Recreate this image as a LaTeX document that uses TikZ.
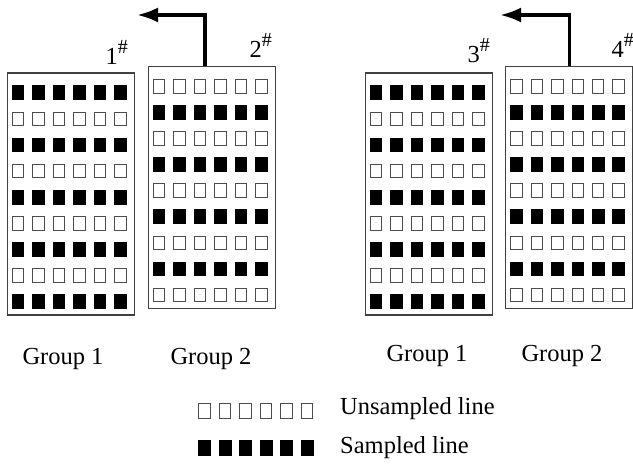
\documentclass[tikz,border=0pt]{standalone}
\usepackage{fontspec}
\setmainfont{Liberation Serif}
\usetikzlibrary{arrows.meta}
\newcommand{\hashmark}{\raisebox{11pt}{\fontsize{20}{20}\selectfont\#}}
\begin{document}
\begin{tikzpicture}[x=1pt,y=-1pt,
	building/.style={rectangle, draw=black!75, line width=1.1pt, minimum width=127pt, minimum height=242pt, inner sep=0pt},
	win0/.style={rectangle, fill=black, draw=black, line width=0.8pt, minimum width=11.6pt, minimum height=13.8pt, inner sep=0pt},
	win1/.style={rectangle, fill=white, draw=black!70, line width=0.9pt, minimum width=11.4pt, minimum height=13.6pt, inner sep=0pt},
	txt/.style={font=\fontsize{24.5}{29}\selectfont, inner sep=0pt},
	>={Latex[length=21pt,width=15pt]}
	]
	\useasboundingbox (0,0) rectangle (633,465);
	\path
	+(70.7,194)    node[building]  (b1) {}
	+(211.7,187.5) node[building]  (b2) {}
	+(428.7,194)   node[building]  (b3) {}
	+(569,187.5)   node[building]  (b4) {}
	;
	% windows: win0 sampled, win1 unsampled
	\foreach \b/\p in {b1/0,b2/1,b3/0,b4/1}
	\foreach \j in {0,...,8} {
		\pgfmathtruncatemacro\k{mod(\j+\p,2)}
		\foreach \i in {0,...,5}
		\node[win\k] (\b-\i-\j) at ([shift={(11.4+20.45*\i,20.3+26.1*\j)}]\b.north west) {};
	}
	\path
	+(128,64.5) node[txt, anchor=base east] (n1) {1\hashmark}
	+(272,58)   node[txt, anchor=base east] (n2) {2\hashmark}
	+(490,63)   node[txt, anchor=base east] (n3) {3\hashmark}
	+(634,58)   node[txt, anchor=base east] (n4) {4\hashmark}
	+(63,364.5) node[txt, anchor=base] (g1) {Group 1}
	+(211,364.5) node[txt, anchor=base] (g2) {Group 2}
	+(427,362)  node[txt, anchor=base] (g3) {Group 1}
	+(562,362)  node[txt, anchor=base] (g4) {Group 2}
	;
	% legend
	\foreach \i in {0,...,5} {
		\node[win1, minimum height=15pt] (u-\i) at (204.6+20.5*\i,410.5) {};
		\node[win0, minimum height=15pt] (s-\i) at (204.6+20.5*\i,448) {};
	}
	\node[txt, anchor=base west] (lu) at (340,414.3) {Unsampled line};
	\node[txt, anchor=base west] (ls) at (340,453.3) {Sampled line};
	% moves
	\coordinate (t1) at (137,15);
	\coordinate (t2) at (500,15);
	\draw[->, line width=3.5pt] ([xshift=-6.7pt]b2.north) |- (t1);
	\draw[->, line width=3.5pt] ([xshift=0.3pt]b4.north) |- (t2);
\end{tikzpicture}
\end{document}
